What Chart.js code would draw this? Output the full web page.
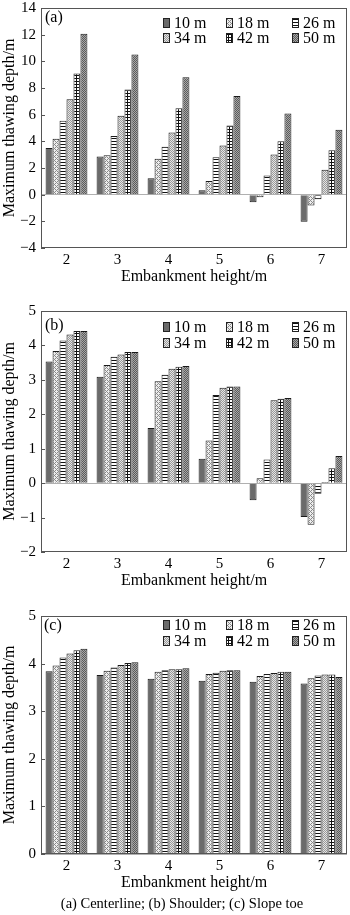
<!DOCTYPE html>
<html>
<head>
<meta charset="utf-8">
<script src="https://cdn.jsdelivr.net/npm/chart.js@4.4.1/dist/chart.umd.min.js"></script>
<style>
  body { margin: 0; width: 350px; height: 915px; background: #fff; position: relative; overflow: hidden;
         font-family: 'Liberation Serif', 'Times New Roman', serif; color: #000; }
  canvas { position: absolute; left: 0; }
  .lab { position: absolute; font-size: 16px; line-height: 16px; }
  .leg { position: absolute; font-size: 16px; line-height: 16px; display: flex; align-items: center; white-space: nowrap; }
  .leg i { display: inline-block; width: 5px; height: 8px; border: 1px solid #222; margin-right: 4px; }
  .cap { position: absolute; top: 895px; left: 0; width: 364px; text-align: center; font-size: 14.5px; line-height: 16px; }
</style>
</head>
<body>
<canvas id="ca" width="350" height="300" style="top:-6px"></canvas>
<canvas id="cb" width="350" height="301" style="top:297px"></canvas>
<canvas id="cc" width="350" height="298" style="top:602px"></canvas>
<div class="lab" style="left:45px;top:9px">(a)</div>
<div class="lab" style="left:45px;top:317px">(b)</div>
<div class="lab" style="left:44px;top:617px">(c)</div>
<div class="cap">(a) Centerline; (b) Shoulder; (c) Slope toe</div>
<script>
const categories = ['2', '3', '4', '5', '6', '7'];
const seriesNames = ['10 m', '18 m', '26 m', '34 m', '42 m', '50 m'];

// (a) centerline
const a10 = [3.5, 2.87, 1.23, 0.33, -0.56, -2.03];
const a18 = [4.2, 2.95, 2.7, 1.03, -0.2, -0.82];
const a26 = [5.55, 4.4, 3.59, 2.8, 1.43, -0.34];
const a34 = [7.15, 5.92, 4.67, 3.69, 3.02, 1.87];
const a42 = [9.09, 7.89, 6.49, 5.18, 4.0, 3.34];
const a50 = [12.06, 10.52, 8.8, 7.4, 6.09, 4.86];

// (b) shoulder
const b10 = [3.53, 3.09, 1.6, 0.71, -0.5, -0.98];
const b18 = [3.84, 3.43, 2.96, 1.24, 0.14, -1.21];
const b26 = [4.14, 3.67, 3.15, 2.56, 0.69, -0.31];
const b34 = [4.32, 3.74, 3.32, 2.77, 2.41, 0.03];
const b42 = [4.42, 3.81, 3.38, 2.81, 2.45, 0.43];
const b50 = [4.42, 3.81, 3.4, 2.81, 2.47, 0.79];

// (c) slope toe
const c10 = [3.84, 3.76, 3.68, 3.64, 3.62, 3.58];
const c18 = [3.96, 3.85, 3.83, 3.78, 3.74, 3.69];
const c26 = [4.13, 3.92, 3.86, 3.81, 3.78, 3.75];
const c34 = [4.21, 3.97, 3.88, 3.85, 3.8, 3.77];
const c42 = [4.28, 4.01, 3.88, 3.86, 3.83, 3.77];
const c50 = [4.31, 4.03, 3.9, 3.86, 3.83, 3.72];

const font = "'Liberation Serif', 'Times New Roman', serif";

function tile(w, h, draw) {
  const c = document.createElement('canvas');
  c.width = w; c.height = h;
  draw(c.getContext('2d'));
  return c;
}
function px(g, x, y, col) { g.fillStyle = col; g.fillRect(x, y, 1, 1); }

const tiles = [
  tile(1, 1, g => { g.fillStyle = '#6b6b6b'; g.fillRect(0, 0, 1, 1); }),
  tile(4, 4, g => {
    for (let x = 0; x < 4; x++) for (let y = 0; y < 4; y++)
      px(g, x, y, ((x + y) % 4 == 0 || (x - y + 4) % 4 == 0) ? '#8a8a8a' : '#eeeeee');
  }),
  tile(1, 3, g => { g.fillStyle = '#fff'; g.fillRect(0, 0, 1, 3); px(g, 0, 0, '#111'); }),
  tile(2, 2, g => { px(g, 0, 0, '#9a9a9a'); px(g, 1, 1, '#9a9a9a'); px(g, 1, 0, '#e4e4e4'); px(g, 0, 1, '#e4e4e4'); }),
  tile(3, 3, g => { g.fillStyle = '#fff'; g.fillRect(0, 0, 3, 3); g.fillStyle = '#111'; g.fillRect(0, 0, 3, 1); g.fillRect(1, 0, 1, 3); }),
  tile(2, 2, g => { px(g, 0, 0, '#5a5a5a'); px(g, 1, 1, '#5a5a5a'); px(g, 1, 0, '#a8a8a8'); px(g, 0, 1, '#a8a8a8'); })
];

const framePlugin = {
  id: 'frame',
  afterDatasetsDraw(chart) {
    const { ctx, chartArea: a, scales: { y } } = chart;
    ctx.save();
    ctx.strokeStyle = '#555';
    ctx.lineWidth = 1;
    ctx.strokeRect(a.left + 0.5, a.top + 0.5, a.right - a.left - 1, a.bottom - a.top - 1);
    ctx.beginPath();
    y.ticks.forEach(t => {
      const py = Math.round(y.getPixelForValue(t.value)) + 0.5;
      ctx.moveTo(a.left, py);
      ctx.lineTo(a.left + 4, py);
    });
    ctx.stroke();
    ctx.restore();
  }
};

function makeChart(id, series, min, max, step, legTop) {
  const canvas = document.getElementById(id);
  const ctx = canvas.getContext('2d');
  const datasets = series.map((vals, i) => ({
    label: seriesNames[i],
    data: vals,
    backgroundColor: ctx.createPattern(tiles[i], 'repeat'),
    borderColor: '#1a1a1a',
    borderWidth: 1
  }));
  new Chart(canvas, {
    type: 'bar',
    data: { labels: categories, datasets: datasets },
    plugins: [framePlugin],
    options: {
      responsive: false,
      animation: false,
      layout: { padding: { top: 10, left: 0, right: 3, bottom: 0 } },
      datasets: { bar: { categoryPercentage: 0.82, barPercentage: 1.0 } },
      plugins: { legend: { display: false }, tooltip: { enabled: false } },
      scales: {
        x: {
          grid: { display: false, drawTicks: false },
          border: { display: false },
          ticks: { color: '#000', padding: 3, font: { family: font, size: 15 } },
          title: { display: true, text: 'Embankment height/m', color: '#000',
                   padding: { top: 0, bottom: 8 }, font: { family: font, size: 16 } },
          afterFit: s => { s.height = 46; }
        },
        y: {
          min: min, max: max,
          grid: {
            drawTicks: false,
            color: c => c.tick && c.tick.value === 0 ? '#b0b0b0' : 'rgba(0,0,0,0)'
          },
          border: { display: false },
          ticks: {
            stepSize: step, color: '#000', padding: 5,
            font: { family: font, size: 15 },
            callback: v => String(v).replace('-', '\u2212')
          },
          title: { display: true, text: 'Maximum thawing depth/m', color: '#000',
                   padding: 0, font: { family: font, size: 16 } },
          afterFit: s => { s.width = 41; }
        }
      }
    }
  });

  // legend, 3 columns x 2 rows
  const cols = [163, 226, 292];
  seriesNames.forEach((name, i) => {
    const d = document.createElement('div');
    d.className = 'leg';
    d.style.left = cols[i % 3] + 'px';
    d.style.top = (legTop[Math.floor(i / 3)] - 8) + 'px';
    const box = document.createElement('i');
    box.style.backgroundImage = 'url(' + tiles[i].toDataURL() + ')';
    d.appendChild(box);
    d.appendChild(document.createTextNode(name));
    document.body.appendChild(d);
  });
}

makeChart('ca', [a10, a18, a26, a34, a42, a50], -4, 14, 2, [23, 38]);
makeChart('cb', [b10, b18, b26, b34, b42, b50], -2, 5, 1, [327, 343]);
makeChart('cc', [c10, c18, c26, c34, c42, c50], 0, 5, 1, [625, 641]);
</script>
</body>
</html>
